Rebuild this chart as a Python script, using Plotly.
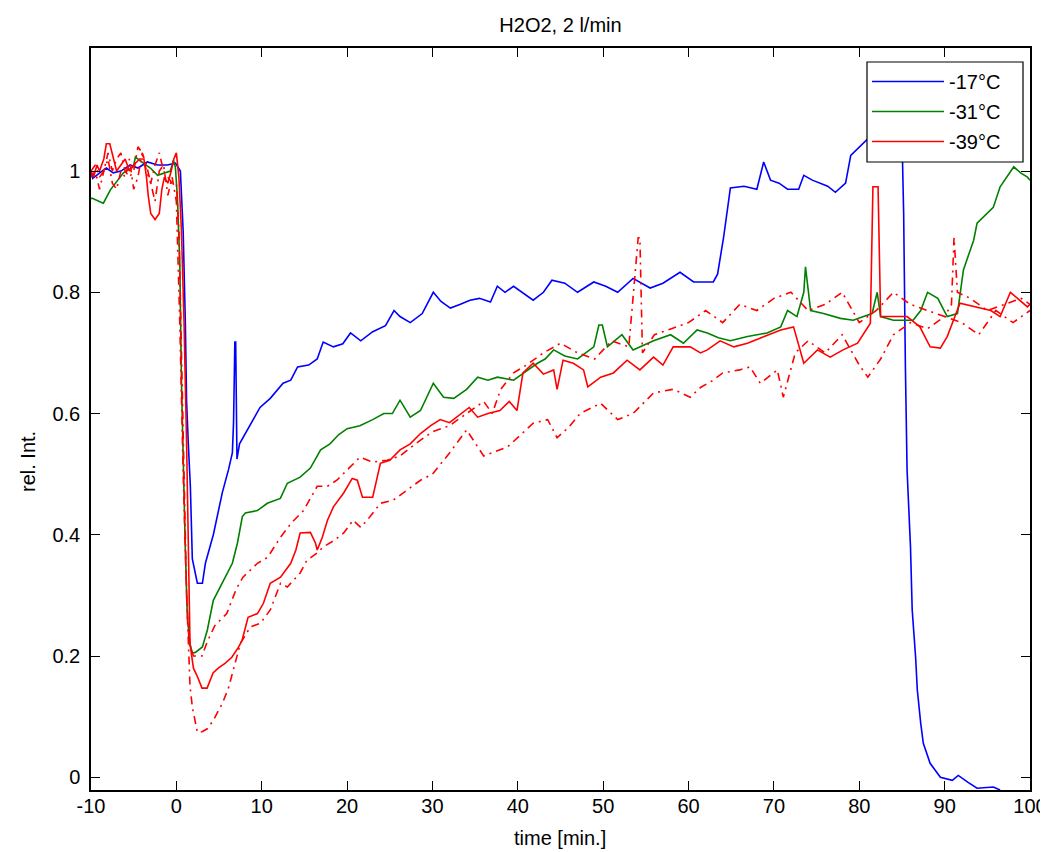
import plotly.graph_objects as go

# ---- data ----
blue_x = [-10, -9.8, -8.9, -8.2, -7.4, -6.5, -5.4, -4.5, -3.4, -2.2, -1.05, -0.1, 0.47, 0.8, 1.05, 1.2, 1.4, 1.64, 1.87, 2.46,
          3.05, 3.4, 4.33, 5.39, 6.1, 6.56, 6.7, 6.85, 6.95, 7.1, 7.4, 8.2, 9.0, 9.8, 11.0, 12.5, 13.4, 14.2, 15.5, 16.5,
          17.2, 18.4, 19.5, 20.4, 21.6, 23.0, 24.5, 25.5, 26.2, 27.4, 28.8, 30.1, 31.0, 32.1, 33.2, 34.4, 35.5, 36.8, 37.6, 38.5,
          39.5, 40.5, 41.8, 43.0, 44.0, 45.5, 47.0, 48.9, 50.3, 51.7, 53.5, 55.5, 57.0, 59.0, 60.6, 62.9, 63.4, 64.1, 64.9, 66.5,
          68.0, 68.8, 69.6, 70.6, 71.6, 72.9, 73.5, 74.5, 75.4, 76.3, 77.2, 78.4, 79.0, 80.5, 81.5, 83.0, 84.5, 85.0, 85.2, 85.4,
          85.6, 86.0, 86.2, 86.6, 86.8, 87.2, 87.5, 88.3, 89.5, 90.9, 91.6, 92.7, 93.8, 95.7, 96.5]
blue_y = [1.0, 0.988, 0.998, 1.005, 0.997, 1.0, 1.01, 1.005, 1.015, 1.01, 1.01, 1.013, 1.0, 0.9, 0.75, 0.62, 0.55, 0.48, 0.36, 0.32,
          0.32, 0.353, 0.40, 0.47, 0.507, 0.535, 0.586, 0.718, 0.718, 0.525, 0.55, 0.57, 0.59, 0.61, 0.625, 0.65, 0.655, 0.677, 0.68, 0.69,
          0.718, 0.71, 0.715, 0.733, 0.72, 0.735, 0.745, 0.77, 0.76, 0.75, 0.765, 0.80, 0.785, 0.774, 0.78, 0.787, 0.79, 0.784, 0.81, 0.80,
          0.81, 0.80, 0.787, 0.80, 0.82, 0.815, 0.80, 0.817, 0.81, 0.80, 0.823, 0.807, 0.815, 0.833, 0.817, 0.817, 0.83, 0.89, 0.972, 0.975,
          0.97, 1.015, 0.985, 0.98, 0.97, 0.97, 0.993, 0.985, 0.98, 0.975, 0.965, 0.98, 1.026, 1.046, 1.06, 1.07, 1.075, 1.06, 0.93, 0.68,
          0.507, 0.38, 0.276, 0.198, 0.144, 0.089, 0.056, 0.023, 0.0, -0.005, 0.003, -0.008, -0.018, -0.016, -0.021]

green_x = [-10, -9.84, -8.9, -8.55, -7.73, -6.9, -6.2, -5.04, -4.8, -3.87, -3.05, -2.2, -1.4, -0.7, -0.35, -0.12, 0.12, 0.4, 0.6, 0.82,
           1.05, 1.29, 1.6, 1.87, 2.23, 3.05, 3.63, 4.33, 5.15, 5.97, 6.56, 7.15, 7.73, 8.08, 9.49, 10.66, 12.18, 13.0, 14.5, 15.7,
           16.9, 18.0, 19.0, 20.0, 21.5, 23.0, 24.3, 25.3, 26.2, 27.4, 28.6, 30.1, 31.3, 32.5, 34.0, 35.3, 36.5, 37.6, 39.5, 41.0,
           42.3, 43.2, 44.2, 45.5, 47.0, 48.9, 49.5, 49.9, 50.5, 52.2, 53.5, 55.9, 57.9, 59.4, 61.0, 62.2, 63.5, 64.9, 66.9, 69.2,
           70.8, 71.6, 72.7, 73.5, 73.7, 74.3, 75.8, 77.8, 79.3, 80.5, 81.5, 82.1, 82.5, 84.0, 86.3, 87.2, 88.0, 89.2, 90.3, 91.5,
           92.2, 93.4, 93.8, 95.7, 96.5, 98.1, 98.9, 99.7, 100]
green_y = [0.955, 0.955, 0.949, 0.947, 0.969, 0.985, 0.997, 1.007, 1.023, 1.013, 1.005, 0.993, 0.997, 1.0, 1.018, 1.007, 0.957, 0.85, 0.65, 0.485,
           0.375, 0.264, 0.22, 0.205, 0.206, 0.215, 0.243, 0.292, 0.314, 0.337, 0.353, 0.386, 0.43, 0.436, 0.44, 0.452, 0.46, 0.485, 0.495, 0.51,
           0.54, 0.55, 0.565, 0.575, 0.58, 0.59, 0.60, 0.60, 0.622, 0.594, 0.605, 0.65, 0.627, 0.625, 0.64, 0.66, 0.655, 0.66, 0.655, 0.67,
           0.683, 0.69, 0.705, 0.695, 0.69, 0.71, 0.746, 0.746, 0.71, 0.73, 0.705, 0.72, 0.73, 0.716, 0.738, 0.733, 0.725, 0.72, 0.727, 0.733,
           0.743, 0.77, 0.76, 0.80, 0.842, 0.77, 0.765, 0.757, 0.754, 0.76, 0.765, 0.80, 0.76, 0.754, 0.754, 0.77, 0.80, 0.79, 0.76, 0.765,
           0.837, 0.886, 0.914, 0.94, 0.974, 1.007, 0.997, 0.99, 0.985]

red_x = [-10, -9.7, -9.3, -9.0, -8.5, -8.2, -7.8, -7.4, -7.0, -6.5, -6.0, -5.5, -5.0, -4.3, -3.8, -3.5, -3.3, -3.0, -2.5, -2.0,
         -1.7, -1.4, -1.0, -0.6, -0.3, 0.0, 0.3, 0.6, 0.9, 1.2, 1.4, 1.6, 2.0, 2.5, 3.0, 3.6, 4.3, 4.9, 5.7, 6.5,
         7.3, 7.7, 8.4, 9.5, 10.2, 11.0, 12.2, 13.4, 14.0, 14.5, 15.7, 16.3, 16.5, 17.1, 17.7, 18.4, 19.6, 20.6, 21.2, 21.8,
         23.0, 23.9, 25.0, 26.2, 27.4, 28.6, 29.8, 30.9, 32.0, 33.3, 34.3, 35.3, 36.5, 37.9, 39.0, 39.9, 40.6, 41.8, 43.0, 44.2,
         44.6, 45.3, 46.5, 47.7, 48.2, 49.7, 51.2, 52.8, 54.3, 55.9, 57.0, 58.2, 60.2, 61.4, 62.2, 63.7, 65.3, 66.9, 68.8, 70.8,
         72.3, 73.5, 75.1, 76.6, 78.1, 79.8, 81.3, 81.6, 82.2, 82.5, 84.0, 85.6, 87.1, 88.3, 89.5, 90.3, 91.8, 93.8, 95.4, 96.5,
         97.7, 99.7, 100]
red_y = [1.0, 0.99, 1.01, 1.0, 1.02, 1.045, 1.045, 1.02, 1.0, 1.01, 1.02, 1.0, 1.01, 1.02, 1.02, 0.99, 0.96, 0.93, 0.92, 0.93,
         0.97, 0.99, 0.98, 1.0, 1.02, 1.03, 0.99, 0.9, 0.75, 0.55, 0.35, 0.22, 0.18, 0.165, 0.147, 0.147, 0.172, 0.18, 0.188, 0.198,
         0.215, 0.226, 0.264, 0.27, 0.287, 0.32, 0.33, 0.353, 0.375, 0.403, 0.404, 0.386, 0.375, 0.396, 0.424, 0.446, 0.469, 0.493, 0.49, 0.462,
         0.462, 0.518, 0.523, 0.54, 0.55, 0.567, 0.58, 0.59, 0.585, 0.60, 0.61, 0.594, 0.60, 0.605, 0.62, 0.605, 0.667, 0.683, 0.665, 0.672,
         0.64, 0.688, 0.683, 0.672, 0.644, 0.66, 0.667, 0.688, 0.672, 0.693, 0.68, 0.71, 0.71, 0.70, 0.705, 0.72, 0.71, 0.716, 0.727, 0.738,
         0.743, 0.683, 0.705, 0.693, 0.705, 0.716, 0.749, 0.974, 0.974, 0.76, 0.76, 0.76, 0.743, 0.71, 0.708, 0.727, 0.782, 0.776, 0.77, 0.76,
         0.80, 0.776, 0.78]

red_dd1_x = [-10, -9.5, -9, -8.5, -8, -7.5, -7, -6.5, -6, -5.5, -5, -4.5, -4, -3.5, -3, -2.5, -2, -1.5, -1, -0.5,
             0, 0.3, 0.6, 0.9, 1.2, 1.5, 2.0, 2.5, 3.0, 3.6, 4.5, 5.9, 7.0, 7.8, 9.5, 10.7, 12.2, 13.5, 14.9, 16.5,
             17.7, 18.8, 20.0, 21.5, 23.0, 24.7, 26.2, 28.0, 30.0, 32.0, 34.0, 36.0, 37.0, 38.0, 39.5, 41.0, 43.0, 45.0, 47.0, 49.0,
             51.0, 53.0, 54.1, 54.3, 54.6, 56.0, 58.0, 60.0, 62.0, 64.0, 66.0, 68.0, 70.0, 72.0, 74.0, 76.0, 78.0, 80.0, 82.0, 84.0,
             86.0, 88.0, 90.0, 90.8, 91.1, 91.5, 93.0, 95.0, 97.0, 99.0, 100]
red_dd1_y = [1.0, 1.01, 0.99, 1.0, 1.03, 1.0, 1.02, 1.03, 1.0, 0.99, 1.0, 1.04, 1.03, 1.0, 0.98, 1.01, 1.03, 1.0, 0.99, 0.98,
             0.98, 0.9, 0.7, 0.5, 0.3, 0.22, 0.2, 0.2, 0.2, 0.223, 0.25, 0.27, 0.31, 0.33, 0.353, 0.363, 0.396, 0.42, 0.44, 0.48,
             0.48, 0.49, 0.507, 0.528, 0.52, 0.523, 0.53, 0.55, 0.57, 0.58, 0.60, 0.62, 0.60, 0.64, 0.667, 0.68, 0.70, 0.716, 0.70, 0.69,
             0.72, 0.71, 0.89, 0.89, 0.70, 0.73, 0.74, 0.75, 0.77, 0.75, 0.78, 0.77, 0.79, 0.80, 0.77, 0.78, 0.80, 0.75, 0.77, 0.80,
             0.78, 0.77, 0.76, 0.78, 0.89, 0.80, 0.79, 0.77, 0.78, 0.79, 0.78]

red_dd2_x = [-10, -9.5, -9, -8.5, -8, -7.5, -7, -6.5, -6, -5.5, -5, -4.5, -4, -3.5, -3, -2.5, -2, -1.5, -1, -0.5,
             0, 0.4, 0.8, 1.2, 1.6, 1.87, 2.46, 3.0, 3.63, 4.33, 5.39, 6.1, 7.5, 8.67, 9.84, 11.0, 12.2, 13.0, 14.5, 15.3,
             16.5, 17.2, 18.4, 19.6, 20.7, 21.6, 22.7, 23.9, 25.4, 27.1, 28.6, 30.0, 32.0, 34.0, 36.0, 38.8, 40.0, 41.8, 43.5, 44.6,
             46.0, 47.3, 49.7, 51.7, 53.5, 55.9, 58.2, 60.2, 61.4, 62.9, 64.0, 66.0, 67.2, 68.4, 70.4, 71.1, 72.5, 74.0, 76.0, 78.0,
             80.0, 81.0, 82.5, 84.0, 86.0, 88.0, 90.0, 92.0, 94.0, 96.0, 98.0, 100]
red_dd2_y = [0.99, 1.0, 0.97, 1.0, 1.02, 0.98, 0.97, 1.0, 0.99, 1.02, 0.97, 0.99, 1.03, 1.01, 0.98, 0.95, 1.0, 1.01, 0.96, 0.99,
             0.95, 0.75, 0.5, 0.3, 0.15, 0.116, 0.074, 0.075, 0.08, 0.094, 0.122, 0.147, 0.221, 0.248, 0.254, 0.276, 0.32, 0.314, 0.337, 0.358,
             0.37, 0.38, 0.39, 0.403, 0.424, 0.412, 0.43, 0.452, 0.457, 0.474, 0.49, 0.50, 0.535, 0.573, 0.53, 0.545, 0.56, 0.584, 0.59, 0.56,
             0.578, 0.60, 0.617, 0.59, 0.60, 0.634, 0.64, 0.627, 0.643, 0.655, 0.667, 0.672, 0.677, 0.65, 0.672, 0.627, 0.70, 0.72, 0.70, 0.73,
             0.68, 0.66, 0.69, 0.73, 0.75, 0.74, 0.76, 0.75, 0.73, 0.77, 0.75, 0.77]

legend_names = ["-17°C", "-31°C", "-39°C"]
x_ticks = [-10, 0, 10, 20, 30, 40, 50, 60, 70, 80, 90, 100]
x_tick_text = ["-10", "0", "10", "20", "30", "40", "50", "60", "70", "80", "90", "100"]
y_ticks = [0, 0.2, 0.4, 0.6, 0.8, 1]
y_tick_text = ["0", "0.2", "0.4", "0.6", "0.8", "1"]

FONT = "Liberation Sans, Arial, Helvetica, sans-serif"
FS = 20
DD = "8px,5px,2px,5px"
W, H = 1040, 844
L, R, T, B = 83, 18, 40, 62
PW, PH = W - L - R, H - T - B
OFF = 8  # page offset of the figure inside the browser window


def px_x(p):
    return (p - OFF - L) / PW


def px_y(p):
    return (T + PH - (p - OFF)) / PH


fig = go.Figure()
fig.add_trace(go.Scatter(x=blue_x, y=blue_y, mode="lines", name=legend_names[0], legendgroup="a",
                         line=dict(color="rgb(0,0,255)", width=1.6)))
fig.add_trace(go.Scatter(x=green_x, y=green_y, mode="lines", name=legend_names[1], legendgroup="b",
                         line=dict(color="rgb(0,128,0)", width=1.6)))
fig.add_trace(go.Scatter(x=red_x, y=red_y, mode="lines", name=legend_names[2], legendgroup="c",
                         line=dict(color="rgb(255,0,0)", width=1.6)))
fig.add_trace(go.Scatter(x=red_dd1_x, y=red_dd1_y, mode="lines", showlegend=False,
                         line=dict(color="rgb(255,0,0)", width=1.6, dash=DD)))
fig.add_trace(go.Scatter(x=red_dd2_x, y=red_dd2_y, mode="lines", showlegend=False,
                         line=dict(color="rgb(255,0,0)", width=1.6, dash=DD)))

axis_common = dict(showgrid=False, zeroline=False, showline=True, linecolor="black", linewidth=1.5,
                   mirror="ticks", ticks="inside", ticklen=9, tickcolor="black", tickwidth=1.2,
                   automargin=False, tickfont=dict(family=FONT, size=FS, color="black"))

fig.update_layout(
    width=W, height=H,
    margin=dict(l=L, r=R, t=T, b=B, pad=0),
    paper_bgcolor="white", plot_bgcolor="white",
    font=dict(family=FONT, size=FS, color="black"),
    title=dict(text="H2O2, 2 l/min", x=0.5, xref="paper", xanchor="center",
               y=1 - 17 / H, yref="container", yanchor="middle",
               font=dict(family=FONT, size=FS, color="black")),
    xaxis=dict(range=[-10, 100], tickvals=x_ticks, ticktext=x_tick_text, ticklabelstandoff=-3,
               title=dict(text=""), **axis_common),
    yaxis=dict(range=[-0.021, 1.203], tickvals=y_ticks, ticktext=y_tick_text, ticklabelstandoff=5,
               title=dict(text=""), **axis_common),
    legend=dict(x=px_x(867), y=px_y(62), xanchor="left", yanchor="top", bgcolor="rgba(0,0,0,0)",
                borderwidth=0, tracegroupgap=1,
                font=dict(family=FONT, size=FS, color="black"), itemwidth=72),
    shapes=[dict(type="rect", xref="paper", yref="paper", layer="above",
                 x0=px_x(867), x1=px_x(1023), y0=px_y(162), y1=px_y(62),
                 fillcolor="white", line=dict(color="black", width=1.2))],
    annotations=[
        dict(text="rel. Int.", textangle=-90, xref="paper", yref="paper",
             x=px_x(28), y=px_y(462), xanchor="center", yanchor="middle", showarrow=False,
             font=dict(family=FONT, size=FS, color="black")),
        dict(text="time [min.]", xref="paper", yref="paper",
             x=px_x(560), y=px_y(838), xanchor="center", yanchor="middle", showarrow=False,
             font=dict(family=FONT, size=FS, color="black")),
    ],
    showlegend=True,
)

fig.write_html("out.html")
